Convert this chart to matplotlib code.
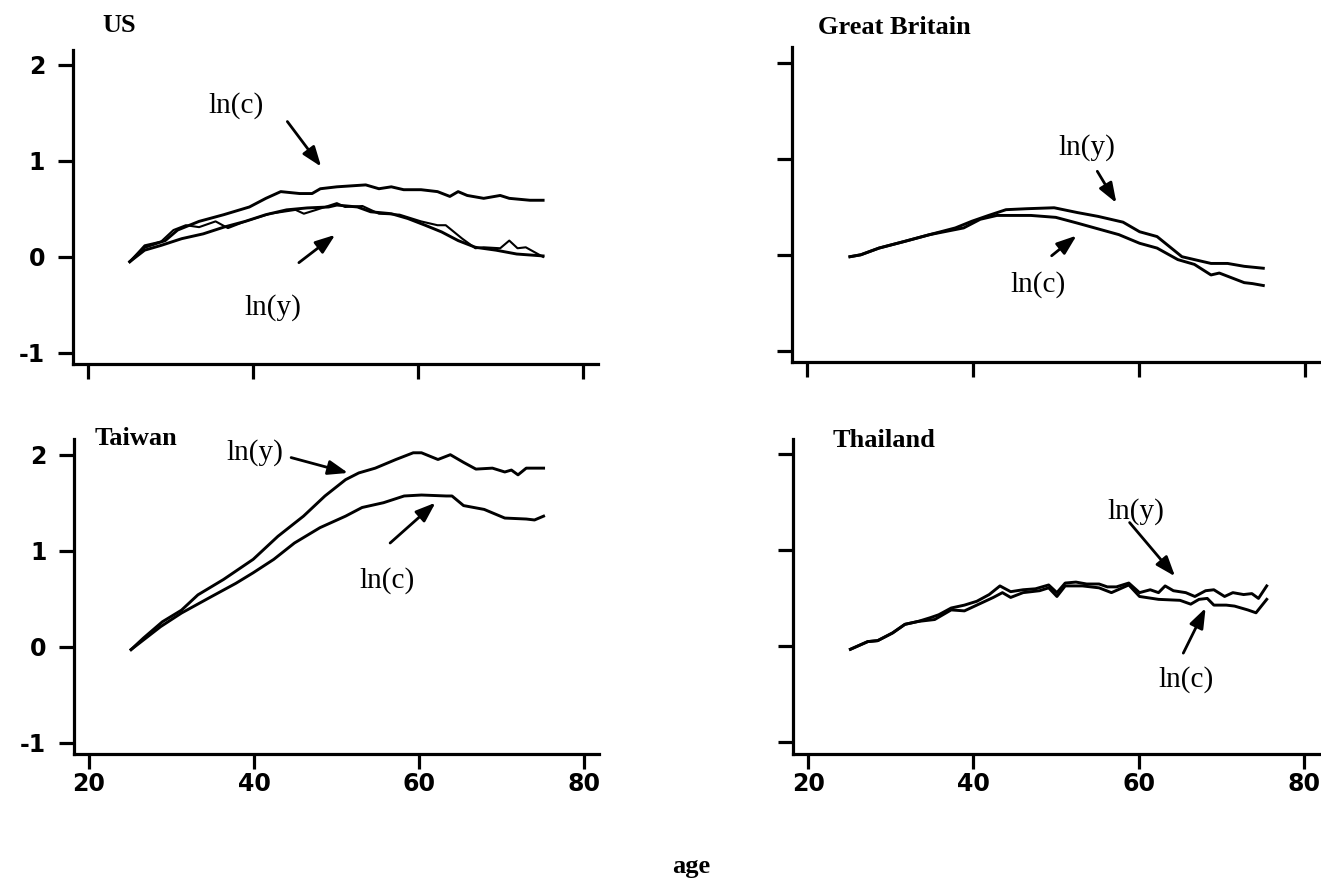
import matplotlib
matplotlib.use("Agg")
import matplotlib.pyplot as plt

W, H = 1321, 880

# ---------------- data ----------------
us_c_age = [25.1, 26.9, 29.4, 30.9, 33.5, 36.5, 39.6, 41.6, 43.4, 45.7, 47.2, 48.2, 50.2, 53.7,
            55.3, 56.8, 58.3, 60.4, 62.4, 63.9, 64.9, 66.0, 68.0, 70.0, 71.1, 73.6, 75.2]
us_c_val = [-0.05, 0.10, 0.17, 0.28, 0.37, 0.44, 0.52, 0.61, 0.68, 0.66, 0.66, 0.71, 0.73, 0.75,
            0.71, 0.73, 0.70, 0.70, 0.68, 0.63, 0.68, 0.64, 0.61, 0.64, 0.61, 0.59, 0.59]

us_y_age = [25.1, 26.9, 28.9, 31.4, 34.0, 36.5, 39.1, 41.6, 44.1, 46.6, 49.2, 50.2, 52.7, 54.3,
            56.8, 58.8, 60.9, 62.9, 64.9, 67.0, 69.5, 72.0, 75.2]
us_y_val = [-0.05, 0.07, 0.12, 0.19, 0.24, 0.31, 0.37, 0.44, 0.49, 0.51, 0.52, 0.54, 0.52, 0.47,
            0.45, 0.40, 0.33, 0.26, 0.17, 0.10, 0.07, 0.03, 0.01]

us_y2_age = [25.1, 26.9, 28.9, 30.4, 31.9, 33.5, 35.5, 37.0, 39.1, 42.1, 45.2, 46.2, 47.7, 50.2,
             51.2, 53.3, 55.3, 57.8, 60.4, 62.4, 63.4, 65.4, 67.0, 68.0, 70.0, 71.1, 72.1, 73.1, 75.2]
us_y2_val = [-0.05, 0.12, 0.16, 0.28, 0.33, 0.31, 0.37, 0.30, 0.37, 0.45, 0.49, 0.45, 0.49, 0.56,
             0.52, 0.53, 0.45, 0.44, 0.37, 0.33, 0.33, 0.19, 0.09, 0.10, 0.09, 0.17, 0.09, 0.10, 0.00]

gb_y_age = [25.2, 26.5, 28.7, 31.8, 34.8, 37.9, 39.9, 41.9, 44.0, 46.5, 49.8, 52.6, 55.1, 58.1,
            60.1, 62.2, 65.2, 68.7, 70.7, 72.7, 75.0]
gb_y_val = [-0.02, 0.00, 0.07, 0.14, 0.21, 0.28, 0.35, 0.41, 0.47, 0.48, 0.49, 0.44, 0.40, 0.34,
            0.24, 0.19, -0.02, -0.09, -0.09, -0.12, -0.14]

gb_c_age = [25.2, 26.5, 28.7, 31.8, 34.8, 38.9, 40.9, 42.9, 44.5, 47.0, 50.0, 52.6, 55.1, 57.6,
            60.1, 62.2, 64.7, 66.7, 68.7, 69.7, 72.7, 73.7, 75.0]
gb_c_val = [-0.02, 0.00, 0.07, 0.14, 0.21, 0.28, 0.37, 0.41, 0.41, 0.41, 0.39, 0.33, 0.27, 0.21,
            0.12, 0.07, -0.05, -0.10, -0.21, -0.19, -0.29, -0.30, -0.32]

tw_y_age = [25.1, 26.6, 28.9, 31.2, 33.2, 36.3, 39.9, 42.9, 46.0, 48.6, 51.1, 52.7, 54.7, 57.2,
            59.3, 60.3, 62.3, 63.8, 65.4, 66.9, 68.9, 70.4, 71.2, 72.0, 73.0, 75.1]
tw_y_val = [-0.03, 0.09, 0.26, 0.38, 0.54, 0.70, 0.91, 1.15, 1.36, 1.57, 1.74, 1.81, 1.86, 1.95,
            2.02, 2.02, 1.95, 2.00, 1.92, 1.85, 1.86, 1.82, 1.84, 1.79, 1.86, 1.86]

tw_c_age = [25.1, 28.7, 31.2, 34.8, 37.8, 39.9, 42.4, 44.9, 48.0, 51.1, 53.1, 55.7, 58.2, 60.3,
            63.3, 64.0, 65.4, 67.9, 70.4, 73.0, 74.0, 75.1]
tw_c_val = [-0.03, 0.21, 0.35, 0.52, 0.66, 0.77, 0.91, 1.08, 1.24, 1.36, 1.45, 1.50, 1.57, 1.58,
            1.57, 1.57, 1.47, 1.43, 1.34, 1.33, 1.32, 1.36]

th_y_age = [25.1, 27.2, 28.4, 30.2, 31.7, 33.3, 34.8, 35.8, 37.3, 38.9, 40.4, 41.9, 43.2, 44.5,
            46.0, 47.5, 49.1, 50.1, 51.1, 52.4, 53.7, 55.2, 56.2, 57.3, 58.8, 60.1, 61.4, 62.4,
            63.2, 64.2, 65.7, 66.8, 68.1, 69.1, 70.4, 71.4, 72.7, 73.7, 74.5, 75.5]
th_y_val = [-0.03, 0.05, 0.06, 0.14, 0.23, 0.26, 0.30, 0.33, 0.40, 0.43, 0.47, 0.54, 0.63, 0.57,
            0.59, 0.60, 0.64, 0.56, 0.66, 0.67, 0.65, 0.65, 0.62, 0.62, 0.66, 0.56, 0.59, 0.56,
            0.63, 0.58, 0.56, 0.52, 0.58, 0.59, 0.52, 0.56, 0.54, 0.55, 0.50, 0.63]

th_c_age = [25.1, 27.2, 28.4, 30.2, 31.7, 33.3, 35.3, 37.3, 38.9, 40.9, 42.4, 43.5, 44.5, 46.0,
            48.0, 49.1, 50.1, 51.1, 53.2, 55.2, 56.7, 58.8, 60.1, 62.4, 65.0, 66.3, 67.3, 68.3,
            69.1, 70.6, 71.6, 73.2, 74.2, 75.5]
th_c_val = [-0.03, 0.05, 0.06, 0.14, 0.23, 0.26, 0.28, 0.38, 0.37, 0.45, 0.51, 0.56, 0.51, 0.56,
            0.58, 0.61, 0.52, 0.63, 0.63, 0.61, 0.56, 0.64, 0.52, 0.49, 0.48, 0.44, 0.49, 0.50,
            0.43, 0.43, 0.42, 0.38, 0.35, 0.49]

x_ticks = [20, 40, 60, 80]
x_tick_labels = ["20", "40", "60", "80"]
y_ticks = [-1, 0, 1, 2]
y_tick_labels = ["-1", "0", "1", "2"]

titles = ["US", "Great Britain", "Taiwan", "Thailand"]

# ---------------- layout ----------------
fig = plt.figure(figsize=(W / 100, H / 100), dpi=100)
XLIM = (18.2, 81.85)
YLIM = (-1.12, 2.16)


def make_axes(x20, sx, y0, sy=96.0):
    left = x20 + (XLIM[0] - 20) * sx
    right = x20 + (XLIM[1] - 20) * sx
    bottom = y0 - YLIM[0] * sy
    top = y0 - YLIM[1] * sy
    return fig.add_axes([left / W, 1 - bottom / H, (right - left) / W, (bottom - top) / H])


ax_us = make_axes(87.7, 8.25, 256.9)
ax_gb = make_axes(806.8, 8.30, 254.8)
ax_tw = make_axes(89.0, 8.25, 646.7)
ax_th = make_axes(808.3, 8.26, 646.4)
axes = [ax_us, ax_gb, ax_tw, ax_th]

LW = 2.1
TICKFONT = dict(fontsize=17, fontweight="bold", family="DejaVu Sans")
for i, ax in enumerate(axes):
    ax.set_xlim(*XLIM)
    ax.set_ylim(*YLIM)
    for s in ["top", "right"]:
        ax.spines[s].set_visible(False)
    for s in ["left", "bottom"]:
        ax.spines[s].set_linewidth(2.3)
    ax.set_xticks(x_ticks)
    ax.set_yticks(y_ticks)
    ax.tick_params(axis="both", direction="out", length=11, width=2.3)
    ax.tick_params(axis="y", pad=9)
    ax.tick_params(axis="x", pad=2)
    if i in (2, 3):
        ax.set_xticklabels(x_tick_labels, **TICKFONT)
    else:
        ax.set_xticklabels([])
    if i in (0, 2):
        ax.set_yticklabels(y_tick_labels, **TICKFONT)
    else:
        ax.set_yticklabels([])

ax_us.plot(us_c_age, us_c_val, color="black", lw=LW)
ax_us.plot(us_y_age, us_y_val, color="black", lw=LW)
ax_us.plot(us_y2_age, us_y2_val, color="black", lw=1.5)
ax_gb.plot(gb_y_age, gb_y_val, color="black", lw=LW)
ax_gb.plot(gb_c_age, gb_c_val, color="black", lw=LW)
ax_tw.plot(tw_y_age, tw_y_val, color="black", lw=LW)
ax_tw.plot(tw_c_age, tw_c_val, color="black", lw=LW)
ax_th.plot(th_y_age, th_y_val, color="black", lw=LW)
ax_th.plot(th_c_age, th_c_val, color="black", lw=LW)

ARROW = dict(arrowstyle="-|>,head_length=0.6,head_width=0.22", color="black", lw=2.0,
             shrinkA=0, shrinkB=0, mutation_scale=20)
LBL = dict(fontsize=21, family="Liberation Serif", ha="center", va="center")


def label(ax, text, tx, ty, start, tip):
    ax.text(tx, ty, text, **LBL)
    ax.annotate("", xy=tip, xytext=start, arrowprops=ARROW)


label(ax_us, "ln(c)", 38.0, 1.58, (44.2, 1.41), (48.3, 0.94))
label(ax_us, "ln(y)", 42.4, -0.53, (45.6, -0.06), (50.0, 0.23))
label(ax_gb, "ln(y)", 53.7, 1.12, (55.0, 0.87), (57.3, 0.54))
label(ax_gb, "ln(c)", 47.8, -0.31, (49.5, -0.01), (52.5, 0.20))
label(ax_tw, "ln(y)", 40.1, 2.02, (44.5, 1.97), (51.4, 1.81))
label(ax_tw, "ln(c)", 56.1, 0.69, (56.5, 1.08), (62.0, 1.50))
label(ax_th, "ln(y)", 59.6, 1.41, (58.9, 1.29), (64.4, 0.73))
label(ax_th, "ln(c)", 65.7, -0.35, (65.4, -0.07), (68.1, 0.40))

TITLE = dict(fontsize=19, family="Liberation Serif", fontweight="bold", ha="center", va="center")
fig.text(119 / W, 1 - 25 / H, titles[0], **TITLE)
fig.text(894 / W, 1 - 28 / H, titles[1], **TITLE)
fig.text(136 / W, 1 - 438 / H, titles[2], **TITLE)
fig.text(884 / W, 1 - 440 / H, titles[3], **TITLE)

fig.text(691 / W, 1 - 866 / H, "age", fontsize=19, family="Liberation Serif",
         fontweight="bold", ha="center", va="center")

fig.savefig("out.png", dpi=100)
